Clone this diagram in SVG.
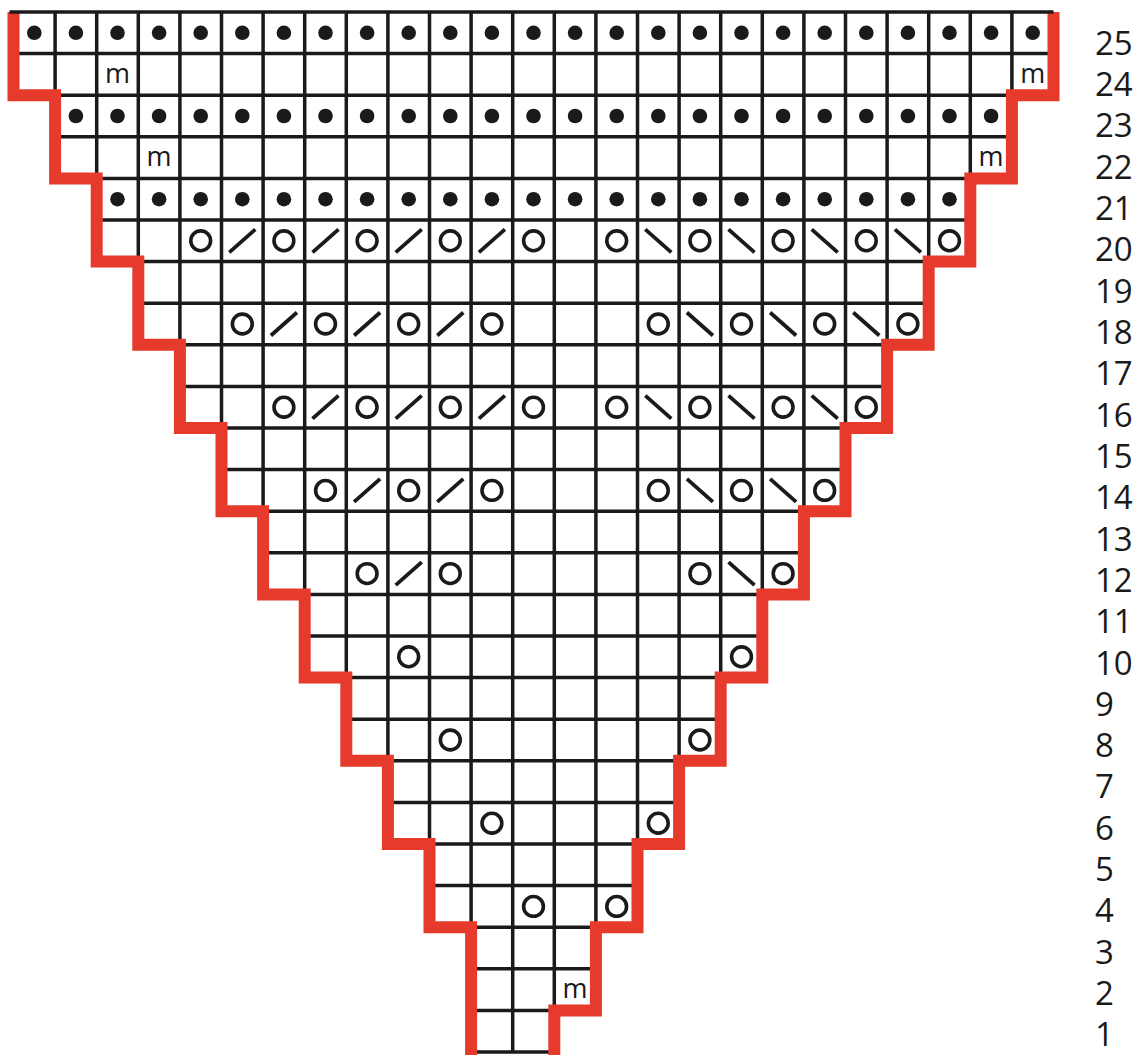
<svg xmlns="http://www.w3.org/2000/svg" width="1142" height="1055" viewBox="0 0 1142 1055">
<style>
.grid{fill:none;stroke:#1a1a1a;stroke-width:3.5}
.edge{fill:none;stroke:#e63a2c;stroke-width:12;stroke-linejoin:miter}
.m{font-family:"Open Sans","Liberation Sans",sans-serif;font-size:27px;fill:#1a1a1a;text-anchor:middle}
.num{font-family:"Open Sans","Liberation Sans",sans-serif;font-size:33px;fill:#1a1a1a}
</style>
<defs>
<circle id="d" r="7.3" fill="#1a1a1a"/>
<circle id="o" r="9.9" fill="none" stroke="#1a1a1a" stroke-width="3.6"/>
<line id="r" x1="-13" y1="11.5" x2="13" y2="-11.5" stroke="#1a1a1a" stroke-width="3.8"/>
<line id="l" x1="-13" y1="-11.5" x2="13" y2="11.5" stroke="#1a1a1a" stroke-width="3.8"/>
</defs>
<rect width="1142" height="1055" fill="#ffffff"/>
<g id="grid">
<path class="grid" d="M13.5 53.6H1053.5M55.1 95.2H1011.9M55.1 136.8H1011.9M96.7 178.4H970.3M96.7 220H970.3M138.3 261.6H928.7M138.3 303.2H928.7M179.9 344.8H887.1M179.9 386.4H887.1M221.5 428H845.5M221.5 469.6H845.5M263.1 511.2H803.9M263.1 552.8H803.9M304.7 594.4H762.3M304.7 636H762.3M346.3 677.6H720.7M346.3 719.2H720.7M387.9 760.8H679.1M387.9 802.4H679.1M429.5 844H637.5M429.5 885.6H637.5M471.1 927.2H595.9M471.1 968.8H595.9M471.1 1010.4H554.3M471.1 1052H554.3"/>
<path class="grid" d="M13.5 12V95.2M55.1 12V178.4M96.7 12V261.6M138.3 12V344.8M179.9 12V428M221.5 12V511.2M263.1 12V594.4M304.7 12V677.6M346.3 12V760.8M387.9 12V844M429.5 12V927.2M471.1 12V1052M512.7 12V1052M554.3 12V1052M595.9 12V1010.4M637.5 12V927.2M679.1 12V844M720.7 12V760.8M762.3 12V677.6M803.9 12V594.4M845.5 12V511.2M887.1 12V428M928.7 12V344.8M970.3 12V261.6M1011.9 12V178.4M1053.5 12V95.2"/>
</g>
<g id="purl-rows">
<g transform="translate(0,32.8)"><use href="#d" x="34.3"/><use href="#d" x="75.9"/><use href="#d" x="117.5"/><use href="#d" x="159.1"/><use href="#d" x="200.7"/><use href="#d" x="242.3"/><use href="#d" x="283.9"/><use href="#d" x="325.5"/><use href="#d" x="367.1"/><use href="#d" x="408.7"/><use href="#d" x="450.3"/><use href="#d" x="491.9"/><use href="#d" x="533.5"/><use href="#d" x="575.1"/><use href="#d" x="616.7"/><use href="#d" x="658.3"/><use href="#d" x="699.9"/><use href="#d" x="741.5"/><use href="#d" x="783.1"/><use href="#d" x="824.7"/><use href="#d" x="866.3"/><use href="#d" x="907.9"/><use href="#d" x="949.5"/><use href="#d" x="991.1"/><use href="#d" x="1032.7"/></g>
<g transform="translate(0,116)"><use href="#d" x="75.9"/><use href="#d" x="117.5"/><use href="#d" x="159.1"/><use href="#d" x="200.7"/><use href="#d" x="242.3"/><use href="#d" x="283.9"/><use href="#d" x="325.5"/><use href="#d" x="367.1"/><use href="#d" x="408.7"/><use href="#d" x="450.3"/><use href="#d" x="491.9"/><use href="#d" x="533.5"/><use href="#d" x="575.1"/><use href="#d" x="616.7"/><use href="#d" x="658.3"/><use href="#d" x="699.9"/><use href="#d" x="741.5"/><use href="#d" x="783.1"/><use href="#d" x="824.7"/><use href="#d" x="866.3"/><use href="#d" x="907.9"/><use href="#d" x="949.5"/><use href="#d" x="991.1"/></g>
<g transform="translate(0,199.2)"><use href="#d" x="117.5"/><use href="#d" x="159.1"/><use href="#d" x="200.7"/><use href="#d" x="242.3"/><use href="#d" x="283.9"/><use href="#d" x="325.5"/><use href="#d" x="367.1"/><use href="#d" x="408.7"/><use href="#d" x="450.3"/><use href="#d" x="491.9"/><use href="#d" x="533.5"/><use href="#d" x="575.1"/><use href="#d" x="616.7"/><use href="#d" x="658.3"/><use href="#d" x="699.9"/><use href="#d" x="741.5"/><use href="#d" x="783.1"/><use href="#d" x="824.7"/><use href="#d" x="866.3"/><use href="#d" x="907.9"/><use href="#d" x="949.5"/></g>
</g>
<g id="lace-rows">
<g transform="translate(0,240.8)"><use href="#o" x="200.7"/><use href="#r" x="242.3"/><use href="#o" x="283.9"/><use href="#r" x="325.5"/><use href="#o" x="367.1"/><use href="#r" x="408.7"/><use href="#o" x="450.3"/><use href="#r" x="491.9"/><use href="#o" x="533.5"/><use href="#o" x="616.7"/><use href="#l" x="658.3"/><use href="#o" x="699.9"/><use href="#l" x="741.5"/><use href="#o" x="783.1"/><use href="#l" x="824.7"/><use href="#o" x="866.3"/><use href="#l" x="907.9"/><use href="#o" x="949.5"/></g>
<g transform="translate(0,324)"><use href="#o" x="242.3"/><use href="#r" x="283.9"/><use href="#o" x="325.5"/><use href="#r" x="367.1"/><use href="#o" x="408.7"/><use href="#r" x="450.3"/><use href="#o" x="491.9"/><use href="#o" x="658.3"/><use href="#l" x="699.9"/><use href="#o" x="741.5"/><use href="#l" x="783.1"/><use href="#o" x="824.7"/><use href="#l" x="866.3"/><use href="#o" x="907.9"/></g>
<g transform="translate(0,407.2)"><use href="#o" x="283.9"/><use href="#r" x="325.5"/><use href="#o" x="367.1"/><use href="#r" x="408.7"/><use href="#o" x="450.3"/><use href="#r" x="491.9"/><use href="#o" x="533.5"/><use href="#o" x="616.7"/><use href="#l" x="658.3"/><use href="#o" x="699.9"/><use href="#l" x="741.5"/><use href="#o" x="783.1"/><use href="#l" x="824.7"/><use href="#o" x="866.3"/></g>
<g transform="translate(0,490.4)"><use href="#o" x="325.5"/><use href="#r" x="367.1"/><use href="#o" x="408.7"/><use href="#r" x="450.3"/><use href="#o" x="491.9"/><use href="#o" x="658.3"/><use href="#l" x="699.9"/><use href="#o" x="741.5"/><use href="#l" x="783.1"/><use href="#o" x="824.7"/></g>
<g transform="translate(0,573.6)"><use href="#o" x="367.1"/><use href="#r" x="408.7"/><use href="#o" x="450.3"/><use href="#o" x="699.9"/><use href="#l" x="741.5"/><use href="#o" x="783.1"/></g>
<g transform="translate(0,656.8)"><use href="#o" x="408.7"/><use href="#o" x="741.5"/></g>
<g transform="translate(0,740)"><use href="#o" x="450.3"/><use href="#o" x="699.9"/></g>
<g transform="translate(0,823.2)"><use href="#o" x="491.9"/><use href="#o" x="658.3"/></g>
<g transform="translate(0,906.4)"><use href="#o" x="533.5"/><use href="#o" x="616.7"/></g>
</g>
<g id="marker-stitches">
<text class="m" x="117.5" y="82.8">m</text>
<text class="m" x="1032.7" y="82.8">m</text>
<text class="m" x="159.1" y="166">m</text>
<text class="m" x="991.1" y="166">m</text>
<text class="m" x="575.1" y="998">m</text>
</g>
<g id="outline">
<path class="edge" d="M13.5 12V95.2H55.1V178.4H96.7V261.6H138.3V344.8H179.9V428H221.5V511.2H263.1V594.4H304.7V677.6H346.3V760.8H387.9V844H429.5V927.2H471.1V1056"/>
<path class="edge" d="M1053.5 12V95.2H1011.9V178.4H970.3V261.6H928.7V344.8H887.1V428H845.5V511.2H803.9V594.4H762.3V677.6H720.7V760.8H679.1V844H637.5V927.2H595.9V1010.4H554.3V1056"/>
<path class="grid" d="M9.5 12H1053.5"/>
</g>
<g id="row-numbers">
<text class="num" x="1095" y="54.5">25</text>
<text class="num" x="1095" y="95.8">24</text>
<text class="num" x="1095" y="137.2">23</text>
<text class="num" x="1095" y="178.5">22</text>
<text class="num" x="1095" y="219.8">21</text>
<text class="num" x="1095" y="261.2">20</text>
<text class="num" x="1095" y="302.5">19</text>
<text class="num" x="1095" y="343.8">18</text>
<text class="num" x="1095" y="385.1">17</text>
<text class="num" x="1095" y="426.5">16</text>
<text class="num" x="1095" y="467.8">15</text>
<text class="num" x="1095" y="509.1">14</text>
<text class="num" x="1095" y="550.5">13</text>
<text class="num" x="1095" y="591.8">12</text>
<text class="num" x="1095" y="633.1">11</text>
<text class="num" x="1095" y="674.5">10</text>
<text class="num" x="1095" y="715.8">9</text>
<text class="num" x="1095" y="757.1">8</text>
<text class="num" x="1095" y="798.4">7</text>
<text class="num" x="1095" y="839.8">6</text>
<text class="num" x="1095" y="881.1">5</text>
<text class="num" x="1095" y="922.4">4</text>
<text class="num" x="1095" y="963.8">3</text>
<text class="num" x="1095" y="1005.1">2</text>
<text class="num" x="1095" y="1046.4">1</text>
</g>
</svg>
